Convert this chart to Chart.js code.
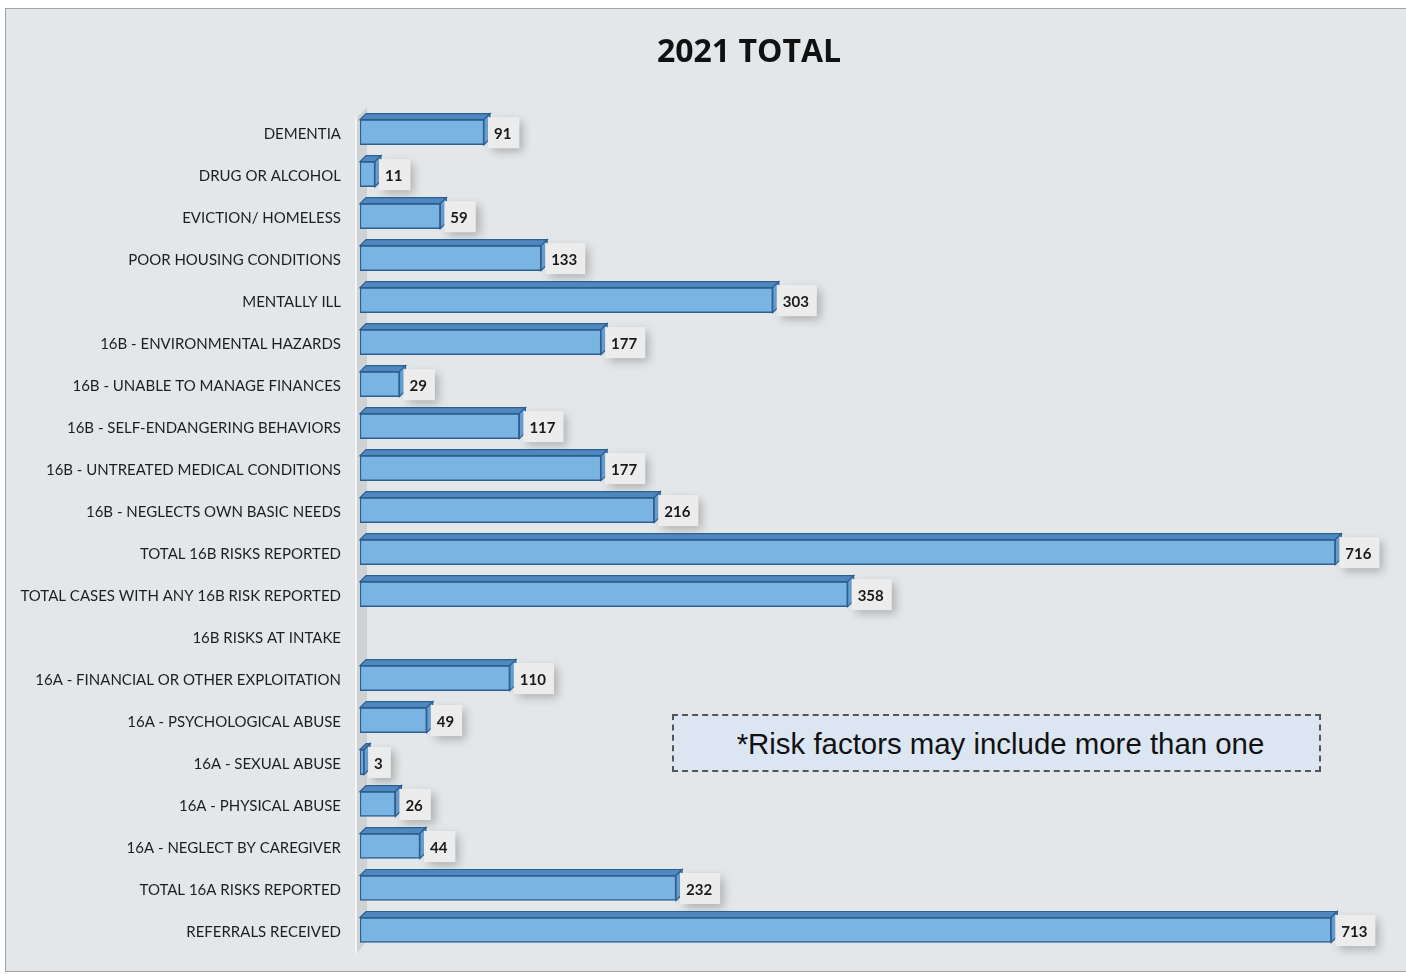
<!DOCTYPE html>
<html>
<head>
<meta charset="utf-8">
<script src="https://cdn.jsdelivr.net/npm/chart.js@4.4.1/dist/chart.umd.min.js"></script>
<style>
  html, body { margin: 0; padding: 0; background: #fff; overflow: hidden; }
  #frame {
    position: absolute; left: 5px; top: 8px;
    width: 1486px; height: 962px;
    border: 1px solid #a3a3a3; background: #e4e7e9;
  }
  #chart { display: block; }
  #note {
    position: absolute; left: 672px; top: 714px;
    width: 637px; height: 54px; padding-left: 8px;
    border: 2px dashed #555; background: #dce6f2;
    font-family: "Liberation Sans", Arial, sans-serif; font-size: 29.4px;
    color: #111; text-align: center; line-height: 56px;
  }
</style>
</head>
<body>
<div id="frame"><canvas id="chart" width="1486" height="962"></canvas></div>
<div id="note">*Risk factors may include more than one</div>
<script>
const categories = [
  'DEMENTIA',
  'DRUG OR ALCOHOL',
  'EVICTION/ HOMELESS',
  'POOR HOUSING CONDITIONS',
  'MENTALLY ILL',
  '16B - ENVIRONMENTAL HAZARDS',
  '16B - UNABLE TO MANAGE FINANCES',
  '16B - SELF-ENDANGERING BEHAVIORS',
  '16B - UNTREATED MEDICAL CONDITIONS',
  '16B - NEGLECTS OWN BASIC NEEDS',
  'TOTAL 16B RISKS REPORTED',
  'TOTAL CASES WITH ANY 16B RISK REPORTED',
  '16B RISKS AT INTAKE',
  '16A - FINANCIAL OR OTHER EXPLOITATION',
  '16A - PSYCHOLOGICAL ABUSE',
  '16A - SEXUAL ABUSE',
  '16A - PHYSICAL ABUSE',
  '16A - NEGLECT BY CAREGIVER',
  'TOTAL 16A RISKS REPORTED',
  'REFERRALS RECEIVED'
];
const totals2021 = [91, 11, 59, 133, 303, 177, 29, 117, 177, 216, 716, 358, null, 110, 49, 3, 26, 44, 232, 713];

const DEPTH = 6;

// grey back wall behind the bars
const wallPlugin = {
  id: 'wall',
  beforeDatasetsDraw(chart) {
    const { ctx, chartArea } = chart;
    const x = chartArea.left - 3;
    ctx.save();
    ctx.fillStyle = '#cfd2d5';
    ctx.beginPath();
    ctx.moveTo(x, chartArea.top + DEPTH);
    ctx.lineTo(x + 10, chartArea.top - 4);
    ctx.lineTo(x + 10, chartArea.bottom - 10);
    ctx.lineTo(x, chartArea.bottom + 2);
    ctx.closePath();
    ctx.fill();
    ctx.fillStyle = '#f4f5f6';
    ctx.fillRect(x - 2, chartArea.top + DEPTH, 2, chartArea.bottom - chartArea.top - 4);
    ctx.restore();
  }
};

// top and side faces plus the value boxes
const barFacePlugin = {
  id: 'barFaces',
  afterDatasetsDraw(chart) {
    const { ctx } = chart;
    const meta = chart.getDatasetMeta(0);
    ctx.save();
    meta.data.forEach((bar, i) => {
      const v = totals2021[i];
      if (v === null) return;
      const x0 = bar.base, x1 = bar.x;
      const top = bar.y - bar.height / 2, bottom = bar.y + bar.height / 2;
      ctx.lineWidth = 1.2;
      ctx.strokeStyle = '#2c5f91';
      // top face
      ctx.fillStyle = '#4f87bf';
      ctx.beginPath();
      ctx.moveTo(x0, top);
      ctx.lineTo(x0 + DEPTH, top - DEPTH);
      ctx.lineTo(x1 + DEPTH, top - DEPTH);
      ctx.lineTo(x1, top);
      ctx.closePath();
      ctx.fill();
      ctx.stroke();
      // side face
      ctx.fillStyle = '#6a9fd1';
      ctx.beginPath();
      ctx.moveTo(x1, top);
      ctx.lineTo(x1 + DEPTH, top - DEPTH);
      ctx.lineTo(x1 + DEPTH, bottom - DEPTH);
      ctx.lineTo(x1, bottom);
      ctx.closePath();
      ctx.fill();
      ctx.stroke();

      // value box
      ctx.font = 'bold 15px Lato, "Open Sans", sans-serif';
      const txt = String(v);
      const w = ctx.measureText(txt).width;
      const bx = x1 + DEPTH - 2, by = bar.y - 15;
      ctx.save();
      ctx.shadowColor = 'rgba(0,0,0,0.25)';
      ctx.shadowBlur = 9;
      ctx.shadowOffsetX = 4;
      ctx.shadowOffsetY = 4;
      ctx.fillStyle = '#ececec';
      ctx.fillRect(bx, by, w + 14, 31);
      ctx.restore();
      ctx.fillStyle = '#1a1a1a';
      ctx.textBaseline = 'middle';
      ctx.textAlign = 'left';
      ctx.fillText(txt, bx + 6, bar.y + 2);
    });
    ctx.restore();
  }
};

new Chart(document.getElementById('chart'), {
  type: 'bar',
  data: {
    labels: categories,
    datasets: [{
      data: totals2021,
      backgroundColor: '#7ab4e3',
      borderColor: '#2c5f91',
      borderWidth: 1.5,
      borderSkipped: false,
      barThickness: 25
    }]
  },
  options: {
    indexAxis: 'y',
    responsive: false,
    animation: false,
    layout: { padding: { top: 0, right: 0, bottom: 15.5, left: 0 } },
    plugins: {
      legend: { display: false },
      tooltip: { enabled: false },
      title: {
        display: true,
        text: '2021 TOTAL',
        color: '#111',
        font: { family: '"Open Sans", sans-serif', size: 32, weight: 'bold' },
        padding: { top: 25, bottom: 38.8 }
      }
    },
    scales: {
      x: { display: false, min: 0, max: 831 },
      y: {
        grid: { display: false },
        border: { display: false },
        ticks: {
          color: '#1e1e1e',
          padding: 11,
          labelOffset: 2,
          font: { family: 'Lato, "Open Sans", sans-serif', size: 15 }
        },
        afterFit(scale) { scale.width = 354; }
      }
    }
  },
  plugins: [wallPlugin, barFacePlugin]
});
</script>
</body>
</html>
